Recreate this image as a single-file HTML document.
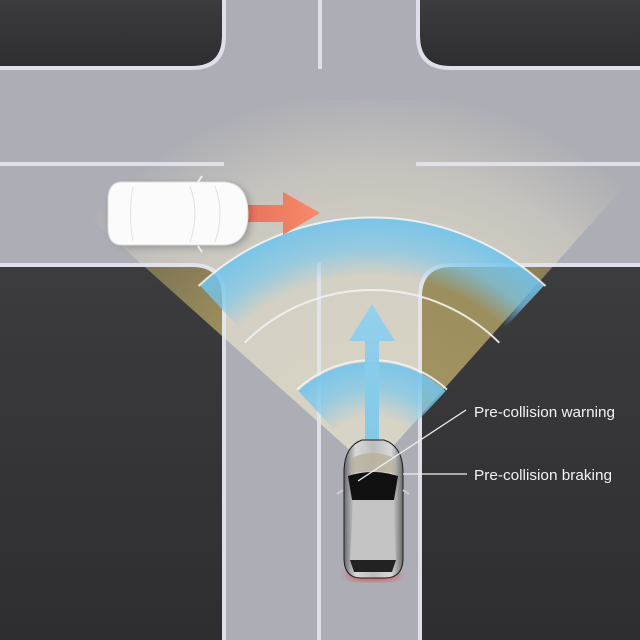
<!DOCTYPE html>
<html><head><meta charset="utf-8"><style>html,body{margin:0;padding:0;background:#333}svg{display:block}</style></head>
<body>
<svg width="640" height="640" viewBox="0 0 640 640" xmlns="http://www.w3.org/2000/svg">
<defs>
<linearGradient id="dark" x1="0" y1="0" x2="0" y2="1"><stop offset="0" stop-color="#3c3c3e"/><stop offset="1" stop-color="#2e2e30"/></linearGradient>
<radialGradient id="coneR" gradientUnits="userSpaceOnUse" cx="372" cy="470" r="380">
<stop offset="0" stop-color="#d8d4c6" stop-opacity="1"/><stop offset="0.55" stop-color="#d6d2c4" stop-opacity="0.95"/><stop offset="0.8" stop-color="#d4d0c2" stop-opacity="0.6"/><stop offset="1" stop-color="#d0ccc0" stop-opacity="0"/></radialGradient>
<radialGradient id="coneD" gradientUnits="userSpaceOnUse" cx="372" cy="470" r="380">
<stop offset="0" stop-color="#a89a66" stop-opacity="1"/><stop offset="0.55" stop-color="#a0925e" stop-opacity="0.95"/><stop offset="0.8" stop-color="#9a8c5c" stop-opacity="0.7"/><stop offset="1" stop-color="#9a8c5c" stop-opacity="0"/></radialGradient>
<radialGradient id="blueBig" gradientUnits="userSpaceOnUse" cx="372" cy="470" r="252">
<stop offset="0.77" stop-color="#7cc8ec" stop-opacity="0"/><stop offset="0.88" stop-color="#7cc8ec" stop-opacity="0.7"/><stop offset="1" stop-color="#70c4ec" stop-opacity="0.9"/></radialGradient>
<radialGradient id="blueSmall" gradientUnits="userSpaceOnUse" cx="372" cy="470" r="108">
<stop offset="0.5" stop-color="#7cc8ec" stop-opacity="0"/><stop offset="0.75" stop-color="#7cc8ec" stop-opacity="0.7"/><stop offset="1" stop-color="#70c4ec" stop-opacity="0.9"/></radialGradient>
<linearGradient id="redA" x1="0" y1="0" x2="1" y2="0"><stop offset="0" stop-color="#e8705e"/><stop offset="1" stop-color="#f88a68"/></linearGradient>
<linearGradient id="blueA" x1="0" y1="1" x2="0" y2="0"><stop offset="0" stop-color="#7ec8e8"/><stop offset="1" stop-color="#90d0ee"/></linearGradient>
<linearGradient id="silver" x1="0" y1="0" x2="1" y2="0"><stop offset="0" stop-color="#6a6a6a"/><stop offset="0.2" stop-color="#d8d8d8"/><stop offset="0.5" stop-color="#bdbdbd"/><stop offset="0.8" stop-color="#d8d8d8"/><stop offset="1" stop-color="#6a6a6a"/></linearGradient>
<clipPath id="darkClip">
<path d="M0,0 H222 V36 Q222,66 192,66 H0 Z"/>
<path d="M420,0 V36 Q420,66 450,66 H640 V0 Z"/>
<path d="M0,267 H192 Q222,267 222,297 V640 H0 Z"/>
<path d="M640,267 H452 Q422,267 422,297 V640 H640 Z"/>
</clipPath>
<filter id="sh" x="-20%" y="-20%" width="140%" height="140%"><feGaussianBlur stdDeviation="4"/></filter>
</defs>

<rect width="640" height="640" fill="#adaeb5"/>
<polygon points="372,470 -42,100 701,100" fill="url(#coneR)"/>
<g fill="url(#dark)">
<path d="M0,0 H222 V36 Q222,66 192,66 H0 Z"/>
<path d="M420,0 V36 Q420,66 450,66 H640 V0 Z"/>
<path d="M0,267 H192 Q222,267 222,297 V640 H0 Z"/>
<path d="M640,267 H452 Q422,267 422,297 V640 H640 Z"/>
</g>
<polygon points="372,470 -42,100 701,100" fill="url(#coneD)" clip-path="url(#darkClip)"/>

<g fill="none" stroke="#e4e4ee" stroke-width="4" opacity="0.9">
<path d="M224,0 V36 Q224,68 192,68 H0"/>
<path d="M418,0 V36 Q418,68 450,68 H640"/>
<path d="M0,265 H192 Q224,265 224,297 V640"/>
<path d="M640,265 H452 Q420,265 420,297 V640"/>
<line x1="320" y1="0" x2="320" y2="69"/>
<line x1="319" y1="262" x2="319" y2="640"/>
<line x1="0" y1="164" x2="224" y2="164"/>
<line x1="416" y1="164" x2="640" y2="164"/>
</g>

<!-- blue arcs -->
<path d="M200.1,285.8 A252,252 0 0 1 543.9,285.8 L505,327.4 A195,195 0 0 0 239,327.4 Z" fill="url(#blueBig)"/>
<path d="M298.3,391 A108,108 0 0 1 445.7,391 L409.5,430 A55,55 0 0 0 334.5,430 Z" fill="url(#blueSmall)"/>
<g fill="none" stroke="#f2f2f2" stroke-width="2" opacity="0.9">
<path d="M198.5,286 A254,254 0 0 1 545.5,286"/>
<path d="M244.7,342.7 A180,180 0 0 1 499.3,342.7"/>
<path d="M297,389.6 A110,110 0 0 1 447,389.6"/>
</g>

<!-- blue arrow -->
<path d="M365,448 V341 H349 L372,304 L395,341 H379 V448 Z" fill="url(#blueA)" opacity="0.95"/>

<!-- red arrow -->
<path d="M240,205 H283 V192 L320,213 L283,235 V222 H240 Z" fill="url(#redA)"/>

<!-- white car -->
<rect x="110" y="185" width="140" height="62" rx="22" fill="#000" opacity="0.25" filter="url(#sh)"/>
<path d="M122,182 Q108,182 108,200 V228 Q108,245 122,245 H225 Q248,243 248,214 Q248,184 225,182 Z" fill="#fbfbfb" stroke="#dcdcdc" stroke-width="1"/>
<path d="M190,186 Q200,214 190,242" fill="none" stroke="#e0e0e0" stroke-width="1"/>
<path d="M215,186 Q225,214 215,242" fill="none" stroke="#e2e2e2" stroke-width="1"/>
<path d="M133,187 Q128,214 133,241" fill="none" stroke="#e4e4e4" stroke-width="1"/>
<line x1="198" y1="182" x2="202" y2="176" stroke="#eee" stroke-width="2"/>
<line x1="198" y1="246" x2="202" y2="252" stroke="#eee" stroke-width="2"/>

<!-- silver car -->
<ellipse cx="373" cy="574" rx="26" ry="6" fill="#e0302a" opacity="0.8" filter="url(#sh)"/>
<path d="M362,440 H384 Q402,446 403,470 V560 Q402,578 385,578 H361 Q345,578 344,560 V470 Q345,446 362,440 Z" fill="url(#silver)" stroke="#1a1a1a" stroke-width="1"/>
<path d="M348,476 Q373,468 398,476 L394,500 H352 Z" fill="#111"/>
<path d="M353,500 H393 L396,560 H350 Z" fill="#c4c4c4"/>
<path d="M350,560 H396 L392,572 H354 Z" fill="#222"/>
<path d="M352,458 Q373,448 394,458 L396,474 Q373,468 350,474 Z" fill="#b8b09a" opacity="0.8"/>
<line x1="343" y1="490" x2="337" y2="494" stroke="#ccc" stroke-width="2"/>
<line x1="403" y1="490" x2="409" y2="494" stroke="#ccc" stroke-width="2"/>

<!-- callouts -->
<g stroke="#f0f0f0" stroke-width="1.3">
<line x1="466" y1="410" x2="358" y2="481"/>
<line x1="403" y1="474" x2="467" y2="474"/>
</g>
<g font-family="Liberation Sans, sans-serif" font-size="15" fill="#f2f2f2">
<text x="474" y="417" textLength="141" lengthAdjust="spacingAndGlyphs">Pre-collision warning</text>
<text x="474" y="480" textLength="138" lengthAdjust="spacingAndGlyphs">Pre-collision braking</text>
</g>
</svg>
</body></html>
